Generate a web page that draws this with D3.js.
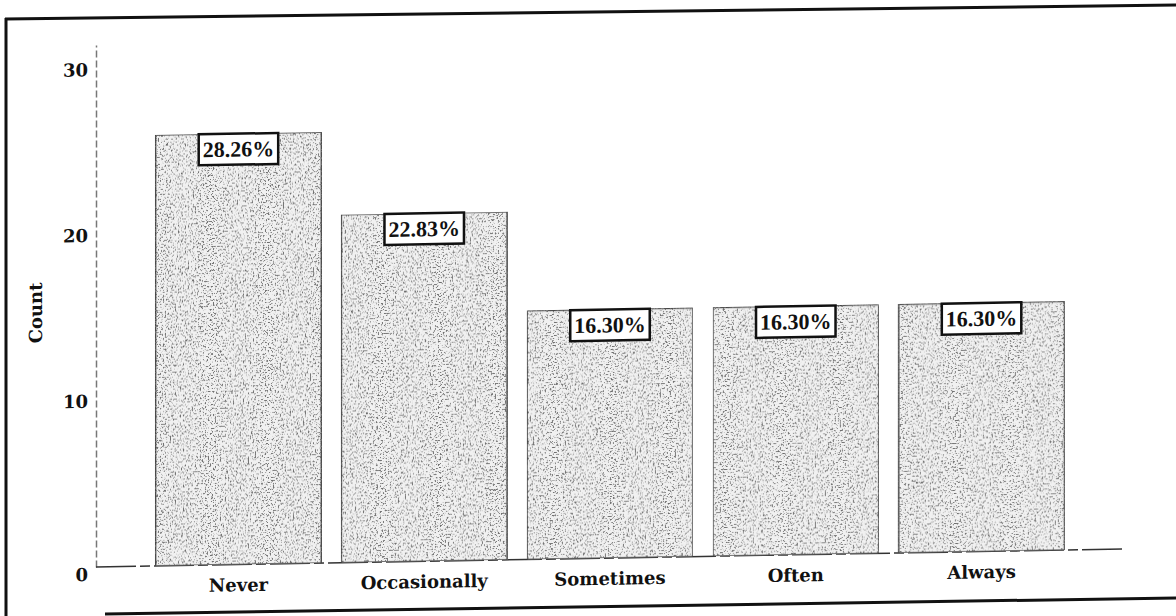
<!DOCTYPE html>
<html>
<head>
  <meta charset="utf-8">
  <script src="https://d3js.org/d3.v7.min.js"></script>
  <style>
    body { margin: 0; background: #fff; }
  </style>
</head>
<body>
  <div id="chart"></div>
  <script>
    // data
    var categories = ["Never", "Occasionally", "Sometimes", "Often", "Always"];
    var counts = [26, 21, 15, 15, 15];
    var percents = ["28.26%", "22.83%", "16.30%", "16.30%", "16.30%"];
    var yTicks = [0, 10, 20, 30];

    var W = 1176, H = 616;
    var axisX = 96, baseY = 567, topY = 45;

    var svg = d3.select("#chart").append("svg")
      .attr("width", W)
      .attr("height", H);

    // speckled grey texture for the bars (the original is a photocopy)
    var defs = svg.append("defs");
    var f = defs.append("filter").attr("id", "grain")
      .attr("x", 0).attr("y", 0).attr("width", "100%").attr("height", "100%");
    f.append("feTurbulence")
      .attr("type", "fractalNoise")
      .attr("baseFrequency", 0.6)
      .attr("numOctaves", 4)
      .attr("seed", 11)
      .attr("result", "noise");
    f.append("feColorMatrix")
      .attr("in", "noise")
      .attr("type", "matrix")
      .attr("values", "0 0 0 0 0.15  0 0 0 0 0.15  0 0 0 0 0.15  -7 0 0 0 3.2")
      .attr("result", "spk");
    f.append("feComposite")
      .attr("in", "spk").attr("in2", "SourceGraphic")
      .attr("operator", "in").attr("result", "clip");
    var m = f.append("feMerge");
    m.append("feMergeNode").attr("in", "SourceGraphic");
    m.append("feMergeNode").attr("in", "clip");

    // outer frame of the scanned figure
    var frame = svg.append("g").attr("fill", "none").attr("stroke", "#111").attr("stroke-width", 3);
    frame.append("line").attr("x1", 5).attr("y1", 19).attr("x2", W).attr("y2", 5);
    frame.append("line").attr("x1", 6).attr("y1", 18).attr("x2", 6).attr("y2", H);
    frame.append("line").attr("x1", 105).attr("y1", 614).attr("x2", W).attr("y2", 598);

    // the plot is slightly skewed in the scan (horizontals climb to the right)
    var g = svg.append("g")
      .attr("transform", "translate(" + axisX + "," + baseY + ") skewY(-1) translate(" + (-axisX) + "," + (-baseY) + ")");

    var x = d3.scaleBand()
      .domain(categories)
      .range([98, 1122])
      .paddingInner(0.108)
      .paddingOuter(0.31);

    var y = d3.scaleLinear()
      .domain([0, 31.5])
      .range([baseY, topY]);

    // Y axis
    var yAxis = g.append("g")
      .attr("transform", "translate(" + axisX + ",0)")
      .call(d3.axisLeft(y).tickValues(yTicks).tickSize(0).tickPadding(8));
    yAxis.select(".domain")
      .attr("stroke", "#777")
      .attr("stroke-width", 1.5)
      .attr("stroke-dasharray", "7,3");
    yAxis.selectAll("text")
      .style("font-family", "'DejaVu Serif', serif")
      .style("font-weight", "bold")
      .style("font-size", "18px")
      .attr("fill", "#111")
      .attr("dy", function(d) { return d === 0 ? "0.75em" : "0.32em"; });

    // X axis
    var xAxis = g.append("g")
      .attr("transform", "translate(0," + baseY + ")")
      .call(d3.axisBottom(x).tickSize(0).tickPadding(14));
    xAxis.select(".domain").remove();
    g.append("line")
      .attr("x1", axisX).attr("x2", 1122)
      .attr("y1", baseY).attr("y2", baseY)
      .attr("stroke", "#333")
      .attr("stroke-width", 1.5)
      .attr("stroke-dasharray", "40,4,10,4");
    xAxis.selectAll("text")
      .style("font-family", "'DejaVu Serif', serif")
      .style("font-weight", "bold")
      .style("font-size", "18px")
      .attr("fill", "#111");

    // Y label
    g.append("text")
      .attr("transform", "rotate(-90)")
      .attr("x", -(baseY + topY) / 2 - 6)
      .attr("y", 42)
      .style("text-anchor", "middle")
      .style("font-family", "'DejaVu Serif', serif")
      .style("font-weight", "bold")
      .style("font-size", "18px")
      .attr("fill", "#111")
      .text("Count");

    // bars
    g.append("g")
      .selectAll("rect")
      .data(counts)
      .enter()
      .append("rect")
      .attr("x", function(d, i) { return x(categories[i]); })
      .attr("y", function(d) { return y(d); })
      .attr("width", x.bandwidth())
      .attr("height", function(d) { return baseY - y(d); })
      .attr("fill", "#f1f1f1")
      .attr("stroke", "#444")
      .attr("stroke-width", 1.5)
      .attr("filter", "url(#grain)");

    // percentage boxes on top of the bars
    var lab = g.append("g")
      .selectAll("g")
      .data(counts)
      .enter()
      .append("g")
      .attr("transform", function(d, i) {
        return "translate(" + (x(categories[i]) + x.bandwidth() / 2) + "," + y(d) + ")";
      });

    var labText = lab.append("text")
      .attr("y", 23)
      .style("text-anchor", "middle")
      .style("font-family", "'Liberation Serif', serif")
      .style("font-weight", "bold")
      .style("font-size", "22px")
      .attr("fill", "#111")
      .text(function(d, i) { return percents[i]; });

    labText.each(function() {
      var w = this.getComputedTextLength() + 8;
      d3.select(this.parentNode).insert("rect", "text")
        .attr("x", -w / 2)
        .attr("y", 0)
        .attr("width", w)
        .attr("height", 31)
        .attr("fill", "#fff")
        .attr("stroke", "#111")
        .attr("stroke-width", 2.5);
    });
  </script>
</body>
</html>
